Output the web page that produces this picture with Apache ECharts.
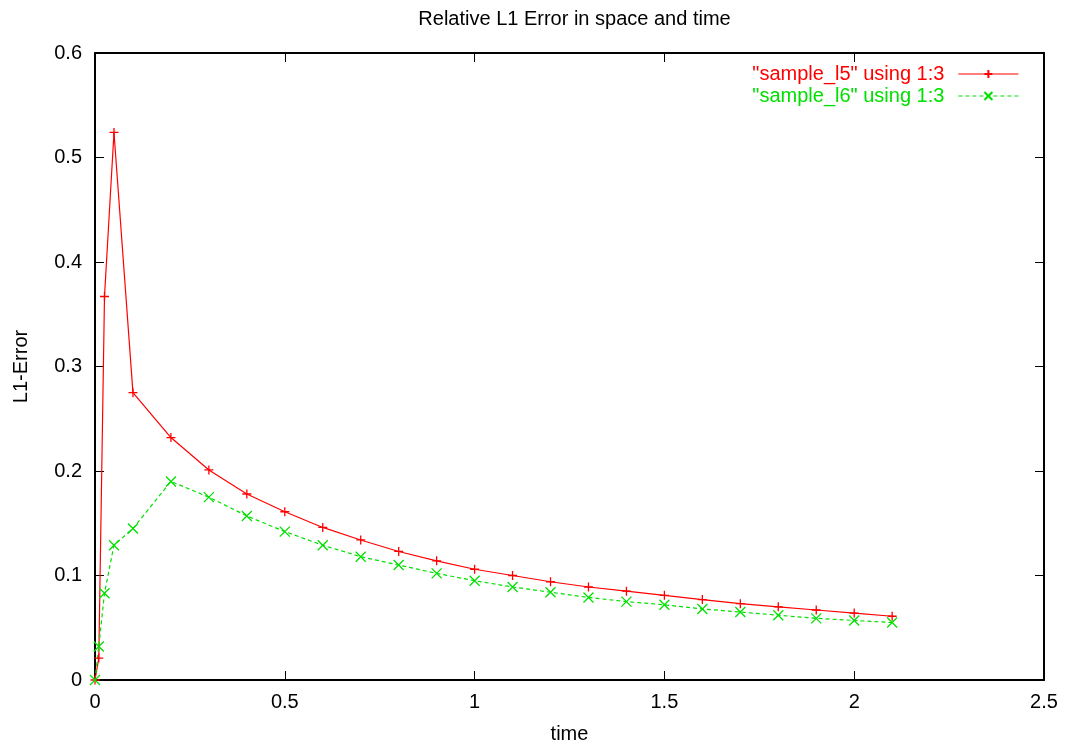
<!DOCTYPE html>
<html>
<head>
<meta charset="utf-8">
<script src="https://cdn.jsdelivr.net/npm/echarts@6/dist/echarts.min.js"></script>
<style>
html,body{margin:0;padding:0;background:#fff;}
#chart{width:1074px;height:749px;}
</style>
</head>
<body>
<div id="chart"></div>
<script>
// Time samples shared by both runs
const times = [0, 0.01, 0.025, 0.05, 0.1, 0.2, 0.3, 0.4, 0.5, 0.6, 0.7, 0.8, 0.9, 1.0,
  1.1, 1.2, 1.3, 1.4, 1.5, 1.6, 1.7, 1.8, 1.9, 2.0, 2.1];
// Relative L1 error, level 5
const errL5 = [0, 0.021, 0.367, 0.524, 0.275, 0.232, 0.201, 0.178, 0.161, 0.146, 0.134,
  0.123, 0.114, 0.106, 0.100, 0.094, 0.089, 0.085, 0.081, 0.077, 0.073, 0.070, 0.067, 0.064, 0.061];
// Relative L1 error, level 6
const errL6 = [0, 0.032, 0.083, 0.129, 0.145, 0.190, 0.175, 0.157, 0.142, 0.129, 0.118,
  0.110, 0.102, 0.095, 0.089, 0.084, 0.079, 0.075, 0.072, 0.068, 0.065, 0.062, 0.059, 0.057, 0.055];
const seriesNames = ['"sample_l5" using 1:3', '"sample_l6" using 1:3'];
const xTicks = ['0', '0.5', '1', '1.5', '2', '2.5'];
const yTicks = ['0', '0.1', '0.2', '0.3', '0.4', '0.5', '0.6'];

const RED = '#ff0000', GREEN = '#00e000';
const FONT = 'Liberation Sans, Arial, sans-serif';
const FS = 20;
const plusPath = 'path://M0,5L10,5M5,0L5,10';
const crossPath = 'path://M0,0L10,10M10,0L0,10';

const pairs = (xs, ys) => xs.map((x, i) => [x, ys[i]]);
const fmtX = v => { const i = Math.round(v / 0.5); return xTicks[i] !== undefined ? xTicks[i] : ''; };
const fmtY = v => { const i = Math.round(v / 0.1); return yTicks[i] !== undefined ? yTicks[i] : ''; };

const tickStyle = { show: true, inside: true, length: 9, lineStyle: { color: '#000', width: 1 } };
const lineStyleAxis = { show: true, onZero: false, lineStyle: { color: '#000', width: 2 } };

const chart = echarts.init(document.getElementById('chart'), null, { renderer: 'canvas' });
chart.setOption({
  backgroundColor: '#fff',
  animation: false,
  title: {
    text: 'Relative L1 Error in space and time',
    left: 569.5, textAlign: 'center', top: 4,
    textStyle: { fontFamily: FONT, fontSize: FS, fontWeight: 'normal', color: '#000' }
  },
  legend: {
    right: 55, top: 64, padding: 0,
    orient: 'vertical',
    align: 'right',
    itemWidth: 60, itemHeight: 10, itemGap: 2,
    lineStyle: { width: 1.2 },
    textStyle: { fontFamily: FONT, fontSize: FS, padding: [0, 9, 0, 0] },
    data: [
      { name: seriesNames[0], textStyle: { color: RED } },
      { name: seriesNames[1], textStyle: { color: GREEN } }
    ]
  },
  grid: { left: 95, right: 30, top: 53, bottom: 66, containLabel: false },
  xAxis: [{
    type: 'value', min: 0, max: 2.5, interval: 0.5,
    name: 'time', nameLocation: 'middle', nameGap: 44,
    nameTextStyle: { fontFamily: FONT, fontSize: FS, color: '#000' },
    axisLine: lineStyleAxis, axisTick: tickStyle, splitLine: { show: false },
    axisLabel: { fontFamily: FONT, fontSize: FS, color: '#000', margin: 12, formatter: fmtX }
  }, {
    type: 'value', min: 0, max: 2.5, interval: 0.5, position: 'top',
    axisLine: lineStyleAxis, axisTick: tickStyle, splitLine: { show: false },
    axisLabel: { show: false }
  }],
  yAxis: [{
    type: 'value', min: 0, max: 0.6, interval: 0.1,
    name: 'L1-Error', nameLocation: 'middle', nameGap: 64, nameRotate: 90,
    nameTextStyle: { fontFamily: FONT, fontSize: FS, color: '#000' },
    axisLine: lineStyleAxis, axisTick: tickStyle, splitLine: { show: false },
    axisLabel: { fontFamily: FONT, fontSize: FS, color: '#000', margin: 13, formatter: fmtY }
  }, {
    type: 'value', min: 0, max: 0.6, interval: 0.1, position: 'right',
    axisLine: lineStyleAxis, axisTick: tickStyle, splitLine: { show: false },
    axisLabel: { show: false }
  }],
  series: [{
    name: seriesNames[0], type: 'line',
    data: pairs(times, errL5),
    color: RED,
    symbol: plusPath, symbolSize: 9, showAllSymbol: true,
    lineStyle: { color: RED, width: 1.2 },
    itemStyle: { color: 'rgba(0,0,0,0)', borderColor: RED, borderWidth: 1.3 },
    emphasis: { disabled: true }
  }, {
    name: seriesNames[1], type: 'line',
    data: pairs(times, errL6),
    color: GREEN,
    symbol: crossPath, symbolSize: 10, showAllSymbol: true,
    lineStyle: { color: GREEN, width: 1.2, type: [4, 3] },
    itemStyle: { color: 'rgba(0,0,0,0)', borderColor: GREEN, borderWidth: 1.3 },
    emphasis: { disabled: true }
  }]
});
</script>
</body>
</html>
